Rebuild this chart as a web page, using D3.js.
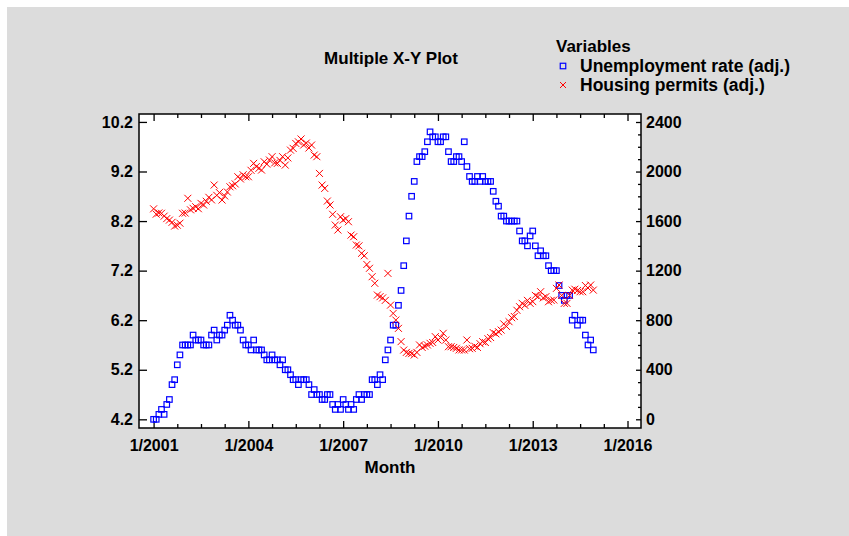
<!DOCTYPE html>
<html>
<head>
<meta charset="utf-8">
<script src="https://cdn.jsdelivr.net/npm/d3@7"></script>
<style>
  body { margin: 0; background: #fff; }
  text { font-family: "Liberation Sans", Arial, sans-serif; font-weight: bold; fill: #000; }
</style>
</head>
<body>
<svg id="chart" width="849" height="536"></svg>
<script>
// monthly series, 1/2001 .. 12/2014
const startYear = 2001;
const unemployment = [
  4.2, 4.2, 4.3, 4.4, 4.3, 4.5, 4.6, 4.9, 5.0, 5.3, 5.5, 5.7,
  5.7, 5.7, 5.7, 5.9, 5.8, 5.8, 5.8, 5.7, 5.7, 5.7, 5.9, 6.0,
  5.8, 5.9, 5.9, 6.0, 6.1, 6.3, 6.2, 6.1, 6.1, 6.0, 5.8, 5.7,
  5.7, 5.6, 5.8, 5.6, 5.6, 5.6, 5.5, 5.4, 5.4, 5.5, 5.4, 5.4,
  5.3, 5.4, 5.2, 5.2, 5.1, 5.0, 5.0, 4.9, 5.0, 5.0, 5.0, 4.9,
  4.7, 4.8, 4.7, 4.7, 4.6, 4.6, 4.7, 4.7, 4.5, 4.4, 4.5, 4.4,
  4.6, 4.5, 4.4, 4.5, 4.4, 4.6, 4.7, 4.6, 4.7, 4.7, 4.7, 5.0,
  5.0, 4.9, 5.1, 5.0, 5.4, 5.6, 5.8, 6.1, 6.1, 6.5, 6.8, 7.3,
  7.8, 8.3, 8.7, 9.0, 9.4, 9.5, 9.5, 9.6, 9.8, 10.0, 9.9, 9.9,
  9.8, 9.8, 9.9, 9.9, 9.6, 9.4, 9.4, 9.5, 9.5, 9.4, 9.8, 9.3,
  9.1, 9.0, 9.0, 9.1, 9.0, 9.1, 9.0, 9.0, 9.0, 8.8, 8.6, 8.5,
  8.3, 8.3, 8.2, 8.2, 8.2, 8.2, 8.2, 8.0, 7.8, 7.8, 7.7, 7.9,
  8.0, 7.7, 7.5, 7.6, 7.5, 7.5, 7.3, 7.2, 7.2, 7.2, 6.9, 6.7,
  6.6, 6.7, 6.7, 6.2, 6.3, 6.1, 6.2, 6.2, 5.9, 5.7, 5.8, 5.6
];
const permits = [
  1699, 1656, 1666, 1663, 1640, 1620, 1608, 1590, 1560, 1567, 1583, 1663,
  1665, 1784, 1691, 1703, 1716, 1700, 1743, 1730, 1760, 1792, 1771, 1891,
  1808, 1830, 1770, 1803, 1835, 1877, 1885, 1900, 1958, 1940, 1974, 1958,
  1958, 2010, 2066, 2040, 2026, 2012, 2079, 2060, 2093, 2120, 2070, 2066,
  2090, 2120, 2052, 2110, 2173, 2187, 2227, 2240, 2263, 2214, 2230, 2190,
  2214, 2133, 2120, 1985, 1891, 1864, 1762, 1730, 1655, 1568, 1528, 1635,
  1608, 1620, 1595, 1487, 1474, 1407, 1400, 1340, 1320, 1250, 1219, 1151,
  1098, 1003, 990, 980, 960, 1178, 922, 855, 801, 734, 627, 559,
  540, 532, 530, 519, 540, 600, 580, 590, 600, 613, 620, 667,
  640, 660, 694, 640, 586, 586, 580, 573, 560, 560, 559, 640,
  570, 573, 590, 580, 610, 627, 620, 650, 660, 700, 690, 707,
  720, 770, 750, 788, 820, 830, 880, 909, 936, 920, 960, 936,
  950, 1000, 990, 1030, 980, 990, 949, 960, 963, 1057, 1084, 1000,
  936, 936, 1000, 1043, 1050, 1040, 1030, 1030, 1080, 1060, 1084, 1043
];
const xMajorTicks = [2001, 2004, 2007, 2010, 2013, 2016];
const leftTicks = [4.2, 5.2, 6.2, 7.2, 8.2, 9.2, 10.2];
const rightTicks = [0, 400, 800, 1200, 1600, 2000, 2400];
const legendLabels = ['Unemployment rate (adj.)', 'Housing permits (adj.)'];

const svg = d3.select('#chart');
const plot = { left: 139, top: 114, right: 641, bottom: 428 };

const x = d3.scaleLinear().domain([2000.538, 2016.427]).range([plot.left, plot.right]);
const yL = d3.scaleLinear().domain([4.025, 10.36]).range([plot.bottom, plot.top]);
const yR = d3.scaleLinear().domain([-70.3, 2464.6]).range([plot.bottom, plot.top]);
const xMinor = d3.range(2001, 2016.5, 0.75).filter(d => !xMajorTicks.includes(d));
const rightMinor = d3.range(0, 2500, 100).filter(d => d % 400 !== 0);
const t = i => startYear + i / 12;

// grey panel
svg.append('rect').attr('x', 7).attr('y', 7).attr('width', 842).attr('height', 529).attr('fill', '#dcdcdc');

// plot area
svg.append('rect')
  .attr('x', plot.left).attr('y', plot.top)
  .attr('width', plot.right - plot.left).attr('height', plot.bottom - plot.top)
  .attr('fill', '#fff');

const axisStyle = (g) => {
  g.select('.domain').remove();
  g.selectAll('.tick line').attr('stroke', '#000').attr('stroke-width', 1.3);
  g.selectAll('.tick text').style('font-size', '16px').style('font-family', '"Liberation Sans", Arial, sans-serif').style('font-weight', 'bold');
};

svg.append('g').attr('transform', `translate(${plot.left},0)`)
  .call(d3.axisLeft(yL).tickValues(leftTicks).tickSize(-8).tickPadding(6).tickFormat(d3.format('.1f')))
  .call(axisStyle);

svg.append('g').attr('transform', `translate(${plot.right},0)`)
  .call(d3.axisRight(yR).tickValues(rightTicks).tickSize(-5).tickPadding(5).tickFormat(d3.format('d')))
  .call(axisStyle);
svg.append('g').attr('transform', `translate(${plot.right},0)`)
  .call(d3.axisRight(yR).tickValues(rightMinor).tickSize(-3).tickFormat(''))
  .call(axisStyle);

svg.append('g').attr('transform', `translate(0,${plot.bottom})`)
  .call(d3.axisBottom(x).tickValues(xMajorTicks).tickSize(-7).tickPadding(12).tickFormat(d => `1/${d}`))
  .call(axisStyle);
svg.append('g').attr('transform', `translate(0,${plot.bottom})`)
  .call(d3.axisBottom(x).tickValues(xMinor).tickSize(-4).tickFormat(''))
  .call(axisStyle);
svg.append('g').attr('transform', `translate(0,${plot.top})`)
  .call(d3.axisTop(x).tickValues(xMajorTicks).tickSize(-7).tickFormat(''))
  .call(axisStyle);
svg.append('g').attr('transform', `translate(0,${plot.top})`)
  .call(d3.axisTop(x).tickValues(xMinor).tickSize(-4).tickFormat(''))
  .call(axisStyle);

// points
const sq = 5.5;
svg.append('g').selectAll('rect')
  .data(unemployment)
  .join('rect')
  .attr('x', (d, i) => x(t(i)) - sq / 2)
  .attr('y', d => yL(d) - sq / 2)
  .attr('width', sq).attr('height', sq)
  .attr('fill', 'none').attr('stroke', '#0000ff').attr('stroke-width', 1.2);

const cross = 'M-3.5,-3.5L3.5,3.5M-3.5,3.5L3.5,-3.5';
svg.append('g').selectAll('path')
  .data(permits)
  .join('path')
  .attr('transform', (d, i) => `translate(${x(t(i))},${yR(d)})`)
  .attr('d', cross)
  .attr('stroke', '#ff0000').attr('stroke-width', 1);

svg.append('rect')
  .attr('x', plot.left).attr('y', plot.top)
  .attr('width', plot.right - plot.left).attr('height', plot.bottom - plot.top)
  .attr('fill', 'none').attr('stroke', '#000').attr('stroke-width', 1.5);

// titles
svg.append('text').attr('x', 391).attr('y', 64).attr('text-anchor', 'middle')
  .style('font-size', '17px').text('Multiple X-Y Plot');
svg.append('text').attr('x', 390).attr('y', 473).attr('text-anchor', 'middle')
  .style('font-size', '17px').text('Month');

// legend
const legend = svg.append('g');
legend.append('text').attr('x', 556).attr('y', 52).style('font-size', '17px').text('Variables');
legend.append('rect').attr('x', 563 - sq / 2).attr('y', 66 - sq / 2).attr('width', sq).attr('height', sq)
  .attr('fill', 'none').attr('stroke', '#0000ff').attr('stroke-width', 1.2);
legend.append('path').attr('transform', 'translate(563,85)').attr('d', 'M-3,-3L3,3M-3,3L3,-3')
  .attr('stroke', '#ff0000').attr('stroke-width', 1);
legend.selectAll('text.item')
  .data(legendLabels)
  .join('text')
  .attr('class', 'item')
  .attr('x', 580).attr('y', (d, i) => 72 + i * 19)
  .style('font-size', '17.5px')
  .text(d => d);
</script>
</body>
</html>
